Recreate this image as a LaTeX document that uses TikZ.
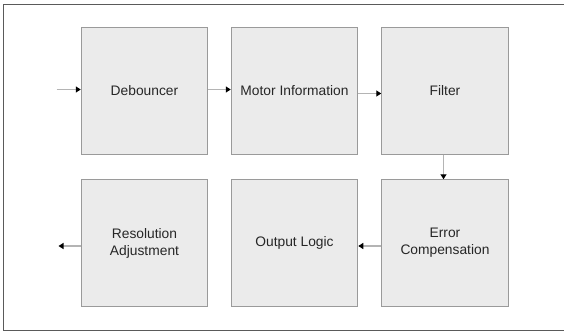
\documentclass[tikz,border=0pt]{standalone}
\usepackage{fontspec}
\setmainfont{Liberation Sans}
\usetikzlibrary{arrows.meta}
\definecolor{boxfill}{HTML}{EBEBEB}
\definecolor{boxline}{HTML}{9A9A9A}
\definecolor{conn}{HTML}{B4B4B4}
\definecolor{frameline}{HTML}{5A5A5A}
\begin{document}
\begin{tikzpicture}[x=1pt,y=-1pt,
  blockbox/.style={draw=boxline,fill=boxfill,line width=1pt,minimum width=126.5pt,minimum height=126.5pt,
    inner sep=0pt,align=center,font=\fontsize{13.8}{17}\selectfont,text=black!85},
  conn/.style={draw=conn,line width=1.3pt,-{Triangle[length=5pt,width=6pt,color=black]}}]
\useasboundingbox (0,0) rectangle (564,331);
\draw[frameline,line width=1pt] (3,4.5) -- (563.5,4.5) (3,4.5) -- (3,330) -- (563.5,330);
\node[blockbox] (deb) at (144.5,91) {Debouncer};
\node[blockbox] (mot) at (294.5,91) {Motor Information};
\node[blockbox] (fil) at (445,91) {Filter};
\node[blockbox] (err) at (445,243) {Error\\Compensation};
\node[blockbox] (out) at (294.5,243) {Output Logic};
\node[blockbox] (res) at (144.5,243) {Resolution\\Adjustment};
\coordinate (in) at (56.5,89.5);
\coordinate (outp) at (58.5,246);
\draw[conn] (in) -- (in -| deb.west);
\draw[conn] (deb.east |- 0,89.5) -- (mot.west |- 0,89.5);
\draw[conn] (mot.east |- 0,93.5) -- (fil.west |- 0,93.5);
\draw[conn] (fil.south -| 443.5,0) -- (err.north -| 443.5,0);
\draw[conn] (err.west |- 0,246) -- (out.east |- 0,246);
\draw[conn] (res.west |- 0,246) -- (outp);
\end{tikzpicture}
\end{document}
